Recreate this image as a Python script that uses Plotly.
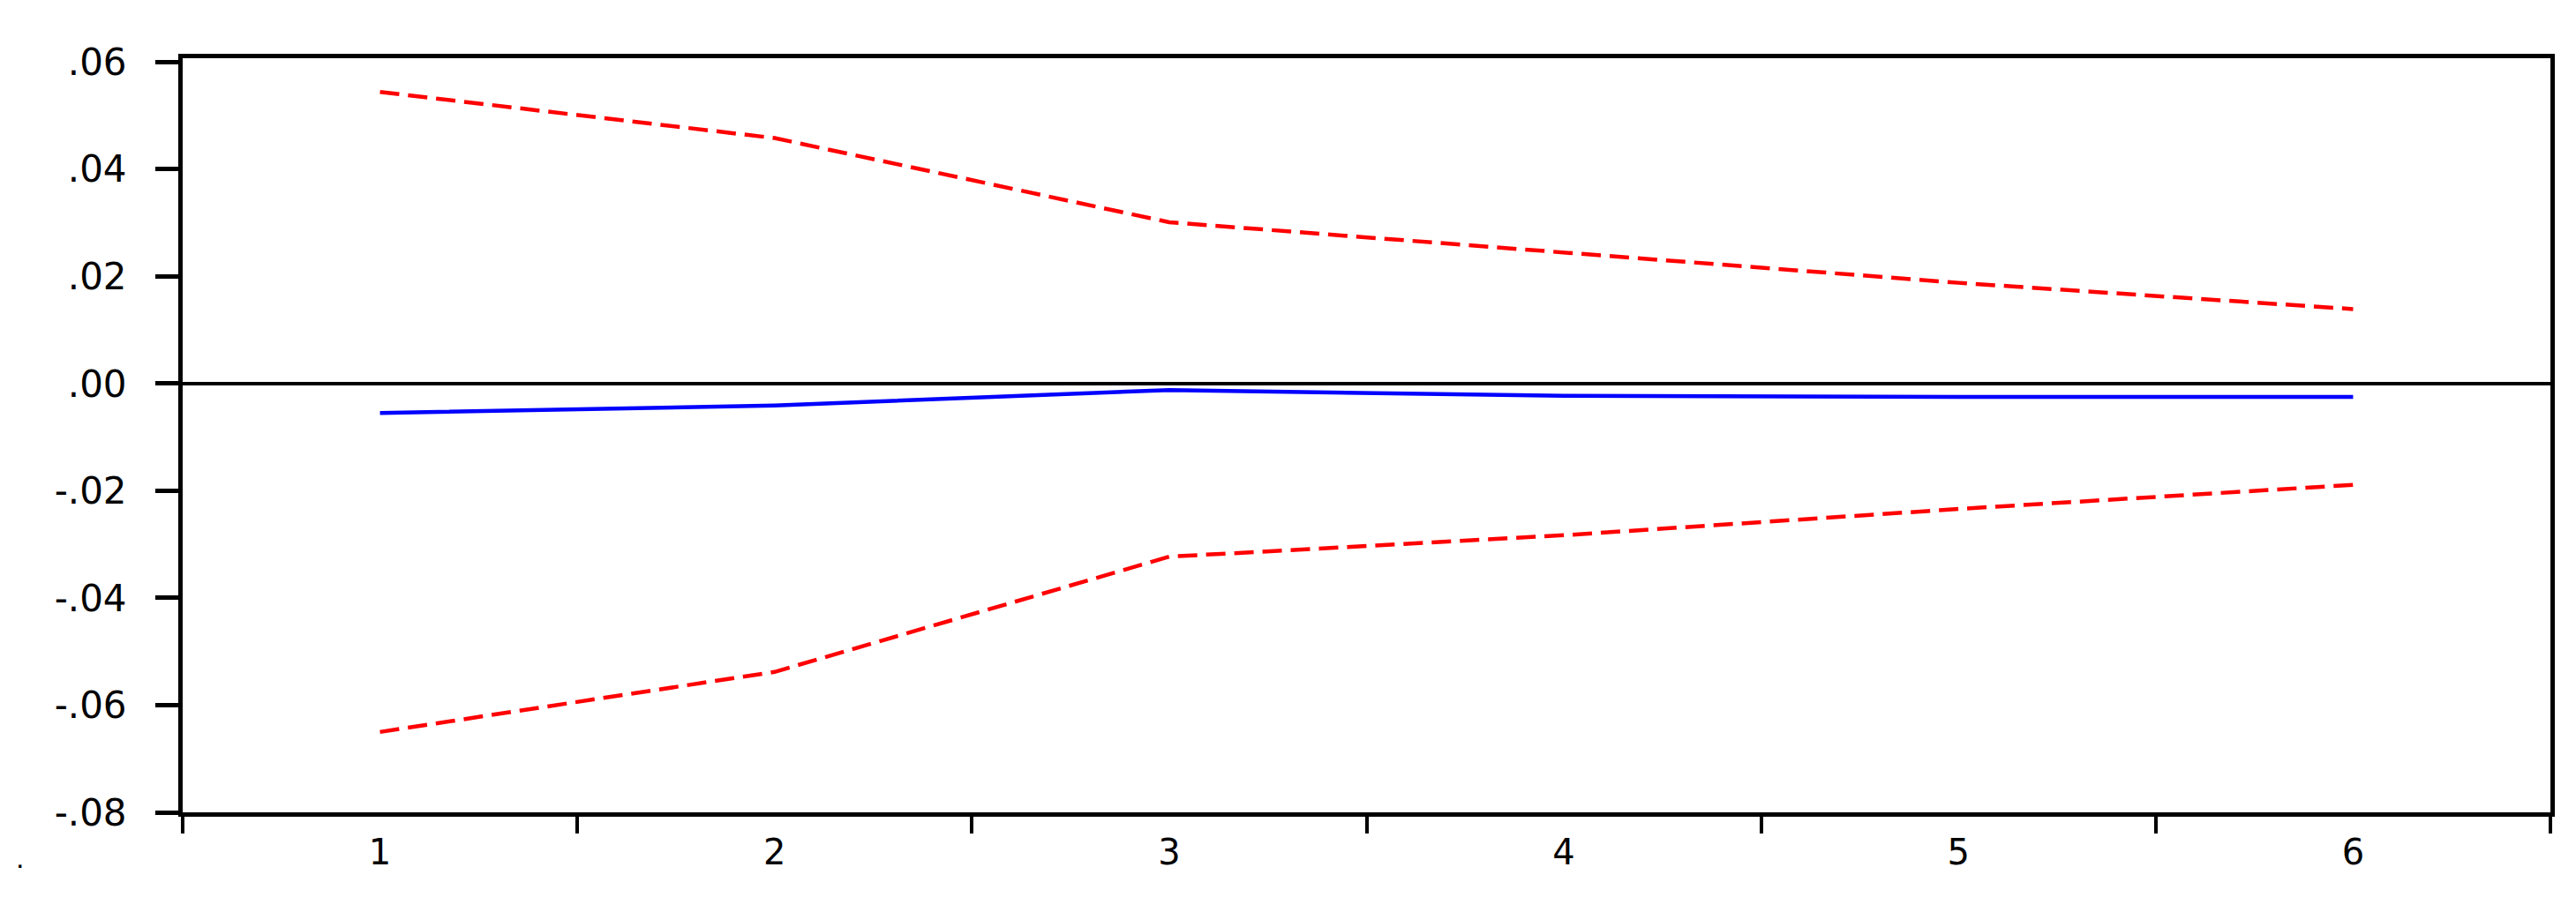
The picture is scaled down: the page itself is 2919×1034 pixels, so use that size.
import plotly.graph_objects as go

# impulse response, periods 1..6
periods = [1, 2, 3, 4, 5, 6]
response = [-0.0055, -0.0041, -0.0012, -0.0023, -0.0025, -0.0025]
upper_band = [0.0544, 0.0458, 0.0301, 0.0244, 0.0188, 0.0139]
lower_band = [-0.0650, -0.0538, -0.0323, -0.0283, -0.0234, -0.0189]

y_ticks = [0.06, 0.04, 0.02, 0.00, -0.02, -0.04, -0.06, -0.08]
y_tick_labels = [".06", ".04", ".02", ".00", "-.02", "-.04", "-.06", "-.08"]
x_tick_labels = ["1", "2", "3", "4", "5", "6"]

W, H = 2919, 1034
L, R, T, B = 199, 37, 58, 121

fig = go.Figure()

fig.add_trace(go.Scatter(
    x=periods, y=upper_band, mode="lines",
    line=dict(color="#ff0000", width=4.5, dash="22px,10px"),
))
fig.add_trace(go.Scatter(
    x=periods, y=lower_band, mode="lines",
    line=dict(color="#ff0000", width=4.5, dash="22px,10px"),
))
fig.add_trace(go.Scatter(
    x=periods, y=response, mode="lines",
    line=dict(color="#0000ff", width=4.5),
))

font = dict(family="DejaVu Sans, Liberation Sans, Arial", size=42, color="#000000")

fig.update_layout(
    width=W, height=H,
    margin=dict(l=L, r=R, t=T, b=B, pad=0),
    paper_bgcolor="white", plot_bgcolor="white",
    showlegend=False,
    font=font,
    xaxis=dict(
        range=[0.5, 6.5],
        tickvals=periods, ticktext=x_tick_labels,
        ticks="", showgrid=False, zeroline=False,
        showline=True, linecolor="black", linewidth=5, mirror=True,
        ticklabelstandoff=6,
        minor=dict(tick0=0.5, dtick=1, ticks="outside", ticklen=19,
                   tickwidth=3.5, tickcolor="black", showgrid=False),
        tickfont=dict(family="DejaVu Sans, Liberation Sans, Arial", size=40, color="#000000"),
    ),
    yaxis=dict(
        range=[-0.08, 0.0607],
        tickvals=y_ticks, ticktext=y_tick_labels,
        ticks="outside", ticklen=26, tickwidth=4.5, tickcolor="black",
        showgrid=False,
        zeroline=True, zerolinecolor="black", zerolinewidth=4,
        showline=True, linecolor="black", linewidth=5, mirror=True,
        ticklabelstandoff=24,
    ),
)

fig.add_annotation(
    text=".", xref="paper", yref="paper",
    x=(14 - L) / (W - L - R), y=-(985 - (H - B)) / (H - T - B),
    xanchor="center", yanchor="bottom", showarrow=False,
    font=dict(family="Liberation Sans, Arial", size=34, color="black"),
)

fig.write_html("out.html")
